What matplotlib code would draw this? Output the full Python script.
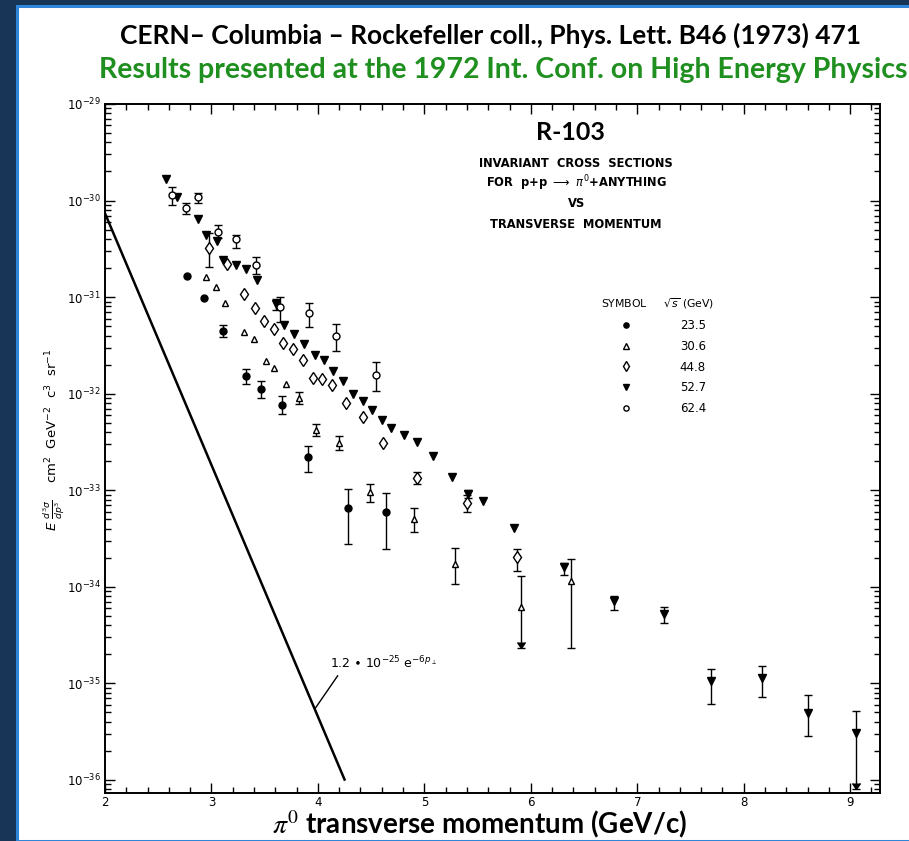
import numpy as np
import matplotlib
matplotlib.use("Agg")
import matplotlib.pyplot as plt
from matplotlib.patches import Rectangle
from matplotlib.ticker import MultipleLocator, LogLocator, NullFormatter

nan = np.nan

# sqrt(s) = 23.5 GeV  (filled circles)
pt_235 = [2.77, 2.93, 3.11, 3.32, 3.47, 3.66, 3.91, 4.28, 4.64]
val_235 = [1.66e-31, 9.8e-32, 4.45e-32, 1.52e-32, 1.11e-32, 7.7e-33, 2.21e-33, 6.6e-34, 5.9e-34]
lo_235 = [nan, nan, 3.85e-32, 1.27e-32, 9.1e-33, 6.1e-33, 1.55e-33, 2.77e-34, 2.46e-34]
hi_235 = [nan, nan, 5.1e-32, 1.82e-32, 1.35e-32, 9.5e-33, 2.88e-33, 1.02e-33, 9.3e-34]

# sqrt(s) = 30.6 GeV  (open triangles)
pt_306 = [2.95, 3.04, 3.13, 3.31, 3.40, 3.51, 3.59, 3.70, 3.82, 3.98, 4.20, 4.49, 4.90, 5.29, 5.91, 6.38]
val_306 = [1.6e-31, 1.26e-31, 8.6e-32, 4.4e-32, 3.65e-32, 2.18e-32, 1.86e-32, 1.27e-32,
           9.0e-33, 4.2e-33, 3.05e-33, 9.5e-34, 5.0e-34, 1.71e-34, 6.2e-35, 1.15e-34]
lo_306 = [nan, nan, nan, nan, nan, nan, nan, nan,
          7.76e-33, 3.63e-33, 2.6e-33, 7.5e-34, 3.7e-34, 1.06e-34, 2.3e-35, 2.3e-35]
hi_306 = [nan, nan, nan, nan, nan, nan, nan, nan,
          1.04e-32, 4.83e-33, 3.63e-33, 1.16e-33, 6.5e-34, 2.54e-34, 1.3e-34, 1.94e-34]
arrow_306 = [14]

# sqrt(s) = 44.8 GeV  (open diamonds)
pt_448 = [2.98, 3.15, 3.31, 3.41, 3.49, 3.59, 3.67, 3.77, 3.86, 3.95, 4.04, 4.13, 4.26, 4.42,
          4.61, 4.93, 5.40, 5.87]
val_448 = [3.24e-31, 2.18e-31, 1.07e-31, 7.7e-32, 5.7e-32, 4.7e-32, 3.37e-32, 2.88e-32, 2.25e-32,
           1.45e-32, 1.43e-32, 1.22e-32, 8.1e-33, 5.8e-33, 3.05e-33, 1.34e-33, 7.3e-34, 2.02e-34]
lo_448 = [2.03e-31] + [nan] * 14 + [1.15e-33, 5.9e-34, 1.47e-34]
hi_448 = [4.56e-31] + [nan] * 14 + [1.55e-33, 8.9e-34, 2.46e-34]

# sqrt(s) = 52.7 GeV  (filled down triangles)
pt_527 = [2.57, 2.68, 2.87, 2.95, 3.05, 3.11, 3.23, 3.32, 3.43, 3.61, 3.68, 3.78, 3.87, 3.97,
          4.06, 4.14, 4.24, 4.33, 4.42, 4.51, 4.60, 4.69, 4.81, 4.93, 5.08, 5.26, 5.41, 5.55,
          5.84, 6.31, 6.78, 7.25, 7.69, 8.17, 8.60, 9.05]
val_527 = [1.67e-30, 1.1e-30, 6.5e-31, 4.45e-31, 3.8e-31, 2.4e-31, 2.16e-31, 1.95e-31, 1.51e-31,
           8.4e-32, 5.1e-32, 4.18e-32, 3.3e-32, 2.54e-32, 2.25e-32, 1.71e-32, 1.34e-32, 1.0e-32,
           8.4e-33, 6.85e-33, 5.4e-33, 4.42e-33, 3.72e-33, 3.16e-33, 2.27e-33, 1.36e-33, 9.1e-34,
           7.7e-34, 4.08e-34, 1.61e-34, 7.1e-35, 5.2e-35, 1.06e-35, 1.15e-35, 4.9e-36, 3.1e-36]
lo_527 = [nan] * 9 + [7.3e-32] + [nan] * 16 + [8.3e-34, nan, nan,
          1.32e-34, 5.75e-35, 4.2e-35, 6.1e-36, 7.2e-36, 2.88e-36, 8.1e-37]
hi_527 = [nan] * 9 + [9.6e-32] + [nan] * 16 + [1.0e-33, nan, nan,
          1.75e-34, 8.0e-35, 6.2e-35, 1.41e-35, 1.52e-35, 7.6e-36, 5.2e-36]
arrow_527 = [35]

# sqrt(s) = 62.4 GeV  (open circles)
pt_624 = [2.63, 2.76, 2.87, 3.06, 3.23, 3.42, 3.64, 3.92, 4.17, 4.55]
val_624 = [1.15e-30, 8.3e-31, 1.08e-30, 4.7e-31, 4.0e-31, 2.16e-31, 7.9e-32, 6.8e-32, 4.0e-32, 1.55e-32]
lo_624 = [9.0e-31, 7.2e-31, 9.4e-31, 4.1e-31, 3.24e-31, 1.72e-31, 5.5e-32, 4.9e-32, 2.75e-32, 1.07e-32]
hi_624 = [1.37e-30, 9.5e-31, 1.2e-30, 5.65e-31, 4.44e-31, 2.63e-31, 1.0e-31, 8.75e-32, 5.3e-32, 2.13e-32]

# reference curve 1.2e-25 exp(-6 pT)
ref_amp = 1.2e-25
ref_slope = 6.0
ref_range = [2.0, 4.25]
ref_label_pt = 3.97

series = [
    ("23.5", pt_235, val_235, lo_235, hi_235, [], "o", "black", 5),
    ("30.6", pt_306, val_306, lo_306, hi_306, arrow_306, "^", "white", 5),
    ("44.8", pt_448, val_448, lo_448, hi_448, [], "d", "white", 6.5),
    ("52.7", pt_527, val_527, lo_527, hi_527, arrow_527, "v", "black", 6),
    ("62.4", pt_624, val_624, lo_624, hi_624, [], "o", "white", 5),
]

W, H = 909, 841
fig = plt.figure(figsize=(W / 100, H / 100), dpi=100)
fig.patch.set_facecolor("#183456")
fig.patches.append(Rectangle((17 / W, 0), 1.0, 1 - 6 / H, transform=fig.transFigure,
                             facecolor="white", edgecolor="#2f86d8", linewidth=2.2, zorder=-5))

ax = fig.add_axes([105 / W, 1 - 793 / H, 775 / W, 689 / H])
ax.set_zorder(2)
ax.patch.set_alpha(0)
ax.set_yscale("log")
ax.set_xlim(2, 9.28)
ax.set_ylim(10 ** -36.135, 1e-29)

handles = []
for lab, pt, val, lo, hi, arrows, mk, fc, ms in series:
    pt = np.array(pt)
    val = np.array(val)
    lo = np.array(lo)
    hi = np.array(hi)
    has = ~np.isnan(lo)
    ax.errorbar(pt[has], val[has], yerr=[val[has] - lo[has], hi[has] - val[has]],
                fmt="none", ecolor="black", elinewidth=1.0, capsize=3, capthick=1.0, zorder=2)
    h, = ax.plot(pt, val, linestyle="none", marker=mk, markersize=ms, markerfacecolor=fc,
                 markeredgecolor="black", markeredgewidth=1.0, zorder=3, label=lab)
    for i in arrows:
        ax.plot(pt[i], lo[i], linestyle="none", marker=7, markersize=6, color="black", zorder=3)
    handles.append(h)

p = np.linspace(ref_range[0], ref_range[1], 50)
ax.plot(p, ref_amp * np.exp(-ref_slope * p), color="black", linewidth=1.8, zorder=2)
ax.annotate(r"1.2 $\bullet$ 10$^{-25}$ e$^{-6p_{\perp}}$",
            xy=(ref_label_pt, ref_amp * np.exp(-ref_slope * ref_label_pt)),
            xytext=(0.29, 0.176), textcoords="axes fraction", fontsize=9,
            ha="left", va="bottom",
            arrowprops=dict(arrowstyle="-", color="black", linewidth=1.0,
                            shrinkA=1, shrinkB=0, relpos=(0.1, 0)))

# ticks
ax.set_yticks(np.logspace(-36, -29, 8))
ax.xaxis.set_major_locator(MultipleLocator(1))
ax.xaxis.set_minor_locator(MultipleLocator(0.2))
ax.yaxis.set_minor_locator(LogLocator(base=10, subs=np.arange(2, 10), numticks=20))
ax.yaxis.set_minor_formatter(NullFormatter())
ax.tick_params(which="both", direction="in", top=True, right=True, width=1.0, colors="black")
ax.tick_params(which="major", length=7, labelsize=8.5, pad=3)
ax.tick_params(axis="x", which="major", pad=2)
ax.tick_params(which="minor", length=4)
for s in ax.spines.values():
    s.set_linewidth(1.4)

# text block
ax.text(0.6, 0.958, "R-103", transform=ax.transAxes, ha="center", va="center",
        fontsize=18, fontweight="bold", family="Lato")
block = ["INVARIANT  CROSS  SECTIONS", r"FOR  p+p $\longrightarrow$ $\pi^0$+ANYTHING", "VS",
         "TRANSVERSE  MOMENTUM"]
for k, line in enumerate(block):
    ax.text(0.608, 0.914 - k * 0.0295, line, transform=ax.transAxes, ha="center", va="center",
            fontsize=8.3, fontweight="bold", family="DejaVu Sans")

leg = ax.legend(handles=handles, loc="upper left", bbox_to_anchor=(0.626, 0.736),
                frameon=False, fontsize=8.5, title="SYMBOL     $\\sqrt{s}$ (GeV)",
                title_fontsize=7.8, handlelength=4.3, handletextpad=2.4,
                labelspacing=0.66, markerscale=0.75)
leg._legend_box.align = "left"

fig.text(54 / W, 1 - 440 / H,
         r"$E\ \frac{d^3\sigma}{dp^3}$    cm$^2$  GeV$^{-2}$  c$^3$  sr$^{-1}$",
         rotation=90, ha="center", va="center", fontsize=9.5)

fig.text(490 / W, 1 - 35 / H, "CERN\u2013 Columbia \u2013 Rockefeller coll., Phys. Lett. B46 (1973) 471",
         ha="center", va="center", fontsize=19, fontweight="bold", family="Lato", color="black")
fig.text(503 / W, 1 - 70 / H, "Results presented at the 1972 Int. Conf. on High Energy Physics",
         ha="center", va="center", fontsize=20.5, fontweight="bold", family="Lato", color="#1f8f1f")
fig.text(480 / W, 1 - 824 / H, r"$\pi^0$ transverse momentum (GeV/c)", ha="center", va="center",
         fontsize=20, fontweight="bold", family="Lato", math_fontfamily="stix")

fig.savefig("out.png", dpi=100, facecolor=fig.get_facecolor())
